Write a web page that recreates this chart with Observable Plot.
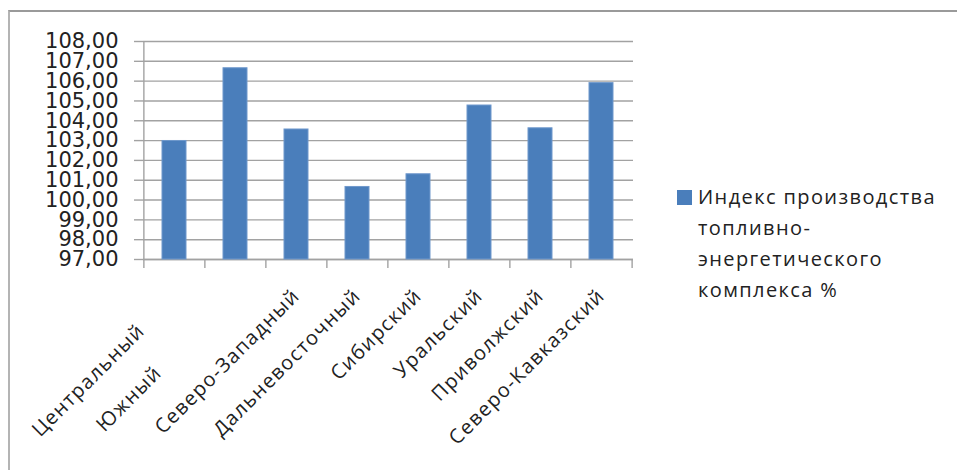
<!DOCTYPE html>
<html><head><meta charset="utf-8">
<script src="https://cdn.jsdelivr.net/npm/d3@7"></script>
<script src="https://cdn.jsdelivr.net/npm/@observablehq/plot@0.6"></script>
<style>
html,body{margin:0;padding:0;background:#fff;}
#wrap{position:relative;width:957px;height:470px;overflow:hidden;background:#fff;}
#frame{position:absolute;left:8px;top:10px;width:980px;height:480px;border-top:2px solid #9a9a9a;border-left:2px solid #b4b4b4;}
#chart{position:absolute;left:0;top:0;}
#chart g[aria-label="x-axis tick label"]{letter-spacing:1.3px;}
#legend{position:absolute;left:677px;top:181px;font-family:"Open Sans";font-size:20px;letter-spacing:1.4px;line-height:31px;color:#222;}
#legend .row{white-space:nowrap;}
#legend .sw{display:inline-block;width:15px;height:15px;background:#4a7ebb;margin-right:6px;vertical-align:-1px;}
#legend .ind{padding-left:21px;}
</style></head><body>
<div id="wrap"><div id="frame"></div><div id="chart"></div><div id="legend"></div></div>
<script>
const regions = ["Центральный","Южный","Северо-Западный","Дальневосточный","Сибирский","Уральский","Приволжский","Северо-Кавказский"];
const values = [102.98, 106.65, 103.56, 100.66, 101.3, 104.77, 103.62, 105.9];
const yTicks = [97,98,99,100,101,102,103,104,105,106,107,108];
const legendLines = ["Индекс производства","топливно-","энергетического","комплекса %"];

const data = regions.map((r, i) => ({region: r, value: values[i]}));
const fmt = d => d.toFixed(2).replace(".", ",");
const W = 660, H = 470, mL = 143, mR = 27, mT = 41, mB = 211;
const step = (W - mL - mR) / regions.length;
const gridColor = "#a2a2a2";
const yMin = yTicks[0], yMax = yTicks[yTicks.length - 1];
const labelFont = {label: null, fontSize: 20, fontFamily: "Open Sans", fill: "#222", tickSize: 0, tickRotate: -45, textAnchor: "end", lineAnchor: "middle", tickPadding: 33};

const plot = Plot.plot({
  width: W, height: H, marginLeft: mL, marginRight: mR, marginTop: mT, marginBottom: mB,
  style: {background: "transparent", overflow: "visible"},
  x: {domain: regions, paddingInner: 0.6, paddingOuter: 0.3, axis: null, label: null},
  y: {domain: [yMin, yMax], axis: null, label: null},
  marks: [
    Plot.gridY(yTicks, {stroke: gridColor, strokeOpacity: 1, strokeWidth: 1.4}),
    Plot.axisY(yTicks, {label: null, tickSize: 9, tickPadding: 16, tickFormat: fmt, fontSize: 21, fontFamily: "DejaVu Sans", fill: "#222", stroke: gridColor, strokeWidth: 1.4}),
    Plot.ruleX([regions[0]], {dx: -step / 2, y1: yMin, y2: yMax, stroke: gridColor, strokeWidth: 1.4}),
    Plot.ruleY([yMin], {stroke: gridColor, strokeWidth: 1.4}),
    Plot.axisX(regions, {label: null, tickSize: 9, tickFormat: () => "", dx: -step / 2, stroke: gridColor, strokeWidth: 1.4}),
    Plot.axisX([regions[regions.length - 1]], {label: null, tickSize: 9, tickFormat: () => "", dx: step / 2, stroke: gridColor, strokeWidth: 1.4}),
    Plot.barY(data, {x: "region", y1: yMin, y2: "value", fill: "#4a7ebb", stroke: "#6f98cc", strokeWidth: 1}),
    Plot.axisX(regions.slice(2), labelFont),
    Plot.axisX([regions[0]], {...labelFont, dx: -33, dy: 35}),
    Plot.axisX([regions[1]], {...labelFont, dx: -77, dy: 77})
  ]
});
document.getElementById("chart").appendChild(plot);

const leg = document.getElementById("legend");
legendLines.forEach((t, i) => {
  const row = document.createElement("div");
  row.className = "row" + (i ? " ind" : "");
  if (i === 0) { const s = document.createElement("span"); s.className = "sw"; row.appendChild(s); }
  row.appendChild(document.createTextNode(t));
  leg.appendChild(row);
});
</script>
</body></html>
